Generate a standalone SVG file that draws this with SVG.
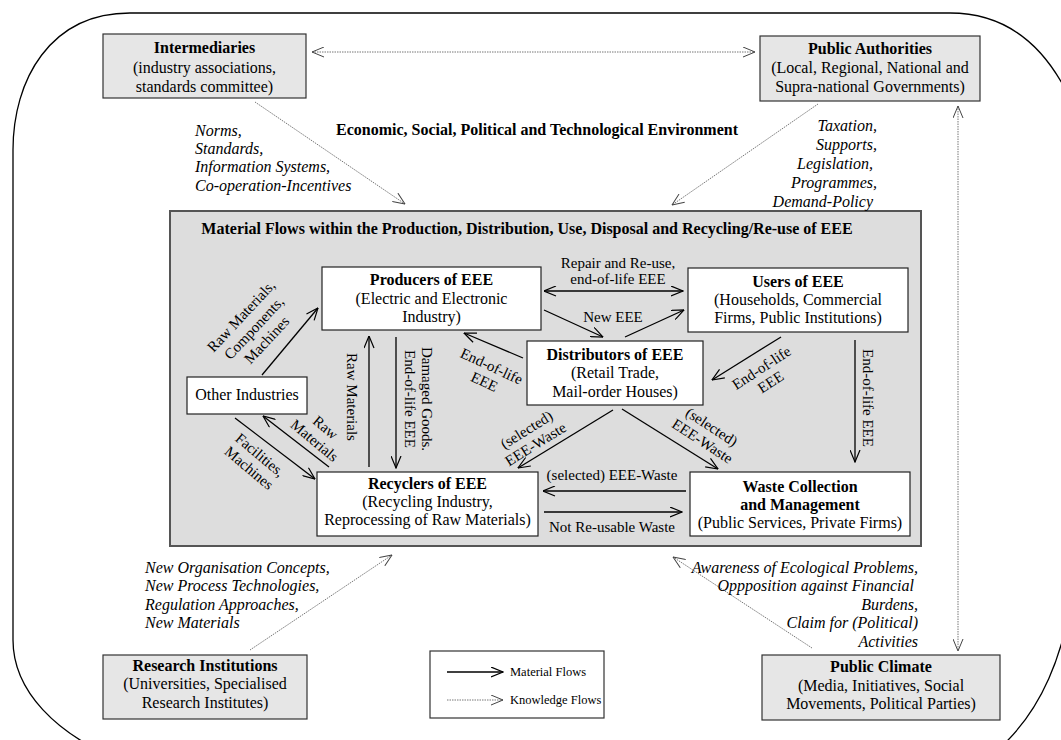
<svg xmlns="http://www.w3.org/2000/svg" width="1061" height="740" viewBox="0 0 1061 740">
<defs>
<style>
text{font-family:"Liberation Serif","Times New Roman",serif;fill:#000;}
.t{font-size:16px;text-anchor:middle;}
.b{font-weight:bold;}
.i{font-style:italic;font-size:16px;}
.l{font-size:15px;text-anchor:middle;}
.lg{font-size:12.5px;}
.ob{fill:#e6e6e6;stroke:#333;stroke-width:1.2;}
.ib{fill:#fff;stroke:#222;stroke-width:1.2;}
.m{fill:none;stroke:#000;stroke-width:1.3;marker-end:url(#ah);}
.md{fill:none;stroke:#000;stroke-width:1.3;marker-start:url(#ah);marker-end:url(#ah);}
.k{fill:none;stroke:#777;stroke-width:1;stroke-dasharray:1.5 1;marker-end:url(#ak);}
.kd{fill:none;stroke:#777;stroke-width:1;stroke-dasharray:1.5 1;marker-start:url(#ak);marker-end:url(#ak);}
</style>
<marker id="ah" viewBox="0 0 13 11" refX="12.5" refY="5.5" markerWidth="13" markerHeight="11" markerUnits="userSpaceOnUse" orient="auto-start-reverse"><path d="M0.5,0.5 L12.5,5.5 L0.5,10.5" fill="none" stroke="#000" stroke-width="1.2"/></marker>
<marker id="ak" viewBox="0 0 13 11" refX="12.5" refY="5.5" markerWidth="13" markerHeight="11" markerUnits="userSpaceOnUse" orient="auto-start-reverse"><path d="M0.5,0.5 L12.5,5.5 L0.5,10.5" fill="none" stroke="#444" stroke-width="1"/></marker>
</defs>
<rect x="0" y="0" width="1061" height="740" fill="#fff"/>
<path id="boundary" d="M130,13 L950,13 C1010,13 1050,50 1075,110 L1075,560 C1070,650 1040,720 985,760 L125,762 C55,735 13,690 13,640 L13,150 C13,80 50,13 130,13 Z" fill="none" stroke="#000" stroke-width="1.3"/>

<g id="main-box">
<rect x="170" y="211" width="751" height="335" fill="#dddddd" stroke="#555" stroke-width="2"/>
<text class="t b" x="527" y="234">Material Flows within the Production, Distribution, Use, Disposal and Recycling/Re-use of EEE</text>
</g>
<text class="t b" x="537" y="135">Economic, Social, Political and Technological Environment</text>

<g id="intermediaries">
<rect class="ob" x="103" y="34" width="203" height="64"/>
<text class="t b" x="204.5" y="53">Intermediaries</text>
<text class="t" x="204.5" y="73">(industry associations,</text>
<text class="t" x="204.5" y="92">standards committee)</text>
</g>
<g id="public-authorities">
<rect class="ob" x="760" y="36" width="220" height="65"/>
<text class="t b" x="870" y="54">Public Authorities</text>
<text class="t" x="870" y="73">(Local, Regional, National and</text>
<text class="t" x="870" y="92">Supra-national Governments)</text>
</g>
<g id="research-institutions">
<rect class="ob" x="103" y="655" width="204" height="64"/>
<text class="t b" x="205" y="671">Research Institutions</text>
<text class="t" x="205" y="689">(Universities, Specialised</text>
<text class="t" x="205" y="708">Research Institutes)</text>
</g>
<g id="public-climate">
<rect class="ob" x="762" y="655" width="238" height="65"/>
<text class="t b" x="881" y="672">Public Climate</text>
<text class="t" x="881" y="691">(Media, Initiatives, Social</text>
<text class="t" x="881" y="709">Movements, Political Parties)</text>
</g>

<g id="producers">
<rect class="ib" x="322" y="267" width="219" height="63"/>
<text class="t b" x="431.5" y="285">Producers of EEE</text>
<text class="t" x="431.5" y="304">(Electric and Electronic</text>
<text class="t" x="431.5" y="322">Industry)</text>
</g>
<g id="users">
<rect class="ib" x="688" y="268" width="220" height="64"/>
<text class="t b" x="798" y="287">Users of EEE</text>
<text class="t" x="798" y="305">(Households, Commercial</text>
<text class="t" x="798" y="323">Firms, Public Institutions)</text>
</g>
<g id="distributors">
<rect class="ib" x="527" y="341" width="176" height="64"/>
<text class="t b" x="615" y="360">Distributors of EEE</text>
<text class="t" x="615" y="378">(Retail Trade,</text>
<text class="t" x="615" y="397">Mail-order Houses)</text>
</g>
<g id="other-industries">
<rect class="ib" x="187" y="377" width="120" height="37"/>
<text class="t" x="247" y="400">Other Industries</text>
</g>
<g id="recyclers">
<rect class="ib" x="317" y="472" width="221" height="64"/>
<text class="t b" x="427.5" y="489">Recyclers of EEE</text>
<text class="t" x="427.5" y="507">(Recycling Industry,</text>
<text class="t" x="427.5" y="525">Reprocessing of Raw Materials)</text>
</g>
<g id="waste-collection">
<rect class="ib" x="690" y="472" width="220" height="64"/>
<text class="t b" x="800" y="492">Waste Collection</text>
<text class="t b" x="800" y="510">and Management</text>
<text class="t" x="800" y="528">(Public Services, Private Firms)</text>
</g>

<g id="legend">
<rect x="430" y="651" width="174" height="67" fill="#fff" stroke="#333" stroke-width="1.2"/>
<line class="m" x1="447" y1="672" x2="503" y2="672"/>
<text class="lg" x="510" y="676">Material Flows</text>
<line class="k" x1="447" y1="700" x2="503" y2="700"/>
<text class="lg" x="510" y="704">Knowledge Flows</text>
</g>

<g id="connectors">
<line class="kd" x1="312" y1="52" x2="755" y2="52"/>
<line class="k" x1="255" y1="102" x2="405" y2="204"/>
<line class="k" x1="818" y1="104" x2="672" y2="205"/>
<line class="kd" x1="958" y1="106" x2="958" y2="651"/>
<line class="k" x1="250" y1="650" x2="392" y2="555"/>
<line class="k" x1="812" y1="648" x2="673" y2="557"/>

<line class="m" x1="262" y1="375" x2="318" y2="308"/>
<line class="m" x1="369" y1="467" x2="369" y2="336"/>
<line class="m" x1="396" y1="337" x2="396" y2="468"/>
<line class="m" x1="523" y1="358" x2="464" y2="333"/>
<line class="md" x1="544" y1="291" x2="683" y2="291"/>
<line class="m" x1="544" y1="310" x2="603" y2="337"/>
<line class="m" x1="625" y1="337" x2="684" y2="310"/>
<line class="m" x1="781" y1="337" x2="712" y2="380"/>
<line class="m" x1="855" y1="340" x2="855" y2="462"/>
<line class="m" x1="613" y1="410" x2="518" y2="468"/>
<line class="m" x1="622" y1="409" x2="718" y2="469"/>
<line class="m" x1="686" y1="491" x2="543" y2="491"/>
<line class="m" x1="544" y1="512" x2="682" y2="512"/>
<line class="m" x1="235" y1="418" x2="315" y2="479"/>
<line class="m" x1="329" y1="467" x2="263" y2="416"/>
</g>

<g id="labels">
<text class="i" x="195" y="136">Norms,</text>
<text class="i" x="195" y="154">Standards,</text>
<text class="i" x="195" y="172">Information Systems,</text>
<text class="i" x="195" y="191">Co-operation-Incentives</text>

<text class="i" x="877" y="131" text-anchor="end">Taxation,</text>
<text class="i" x="877" y="150" text-anchor="end">Supports,</text>
<text class="i" x="873" y="169" text-anchor="end">Legislation,</text>
<text class="i" x="877" y="188" text-anchor="end">Programmes,</text>
<text class="i" x="873" y="207" text-anchor="end">Demand-Policy</text>

<text class="i" x="145" y="573">New Organisation Concepts,</text>
<text class="i" x="145" y="591">New Process Technologies,</text>
<text class="i" x="145" y="610">Regulation Approaches,</text>
<text class="i" x="145" y="628">New Materials</text>

<text class="i" x="918" y="573" text-anchor="end">Awareness of Ecological Problems,</text>
<text class="i" x="914" y="591" text-anchor="end">Oppposition against Financial</text>
<text class="i" x="918" y="610" text-anchor="end">Burdens,</text>
<text class="i" x="918" y="628" text-anchor="end">Claim for (Political)</text>
<text class="i" x="918" y="647" text-anchor="end">Activities</text>

<text class="l" x="618" y="268">Repair and Re-use,</text>
<text class="l" x="618" y="284">end-of-life EEE</text>
<text class="l" x="613" y="322">New EEE</text>
<text class="l" x="612" y="480">(selected) EEE-Waste</text>
<text class="l" x="612" y="532">Not Re-usable Waste</text>

<g transform="translate(254,328) rotate(-47)">
<text class="l" x="0" y="-12.5">Raw Materials,</text>
<text class="l" x="0" y="5">Components,</text>
<text class="l" x="0" y="22.5">Machines</text>
</g>
<g transform="translate(352,397) rotate(90)">
<text class="l" x="0" y="5">Raw Materials</text>
</g>
<g transform="translate(418,399) rotate(90)">
<text class="l" x="0" y="-4">Damaged Goods.</text>
<text class="l" x="0" y="13">End-of-life EEE</text>
</g>
<g transform="translate(868,398) rotate(90)">
<text class="l" x="0" y="5">End-of-life EEE</text>
</g>
<g transform="translate(488,374) rotate(25)">
<text class="l" x="0" y="-3.5">End-of-life</text>
<text class="l" x="0" y="13.5">EEE</text>
</g>
<g transform="translate(766,375) rotate(-33)">
<text class="l" x="0" y="-3.5">End-of-life</text>
<text class="l" x="0" y="13.5">EEE</text>
</g>
<g transform="translate(531,437) rotate(-32)">
<text class="l" x="0" y="-3.5">(selected)</text>
<text class="l" x="0" y="13.5">EEE-Waste</text>
</g>
<g transform="translate(707,434) rotate(33)">
<text class="l" x="0" y="-3.5">(selected)</text>
<text class="l" x="0" y="13.5">EEE-Waste</text>
</g>
<g transform="translate(320,434) rotate(40)">
<text class="l" x="0" y="-3.5">Raw</text>
<text class="l" x="0" y="13.5">Materials</text>
</g>
<g transform="translate(254.5,461.5) rotate(40)">
<text class="l" x="0" y="-3.5">Facilities,</text>
<text class="l" x="0" y="13.5">Machines</text>
</g>
</g>
</svg>
